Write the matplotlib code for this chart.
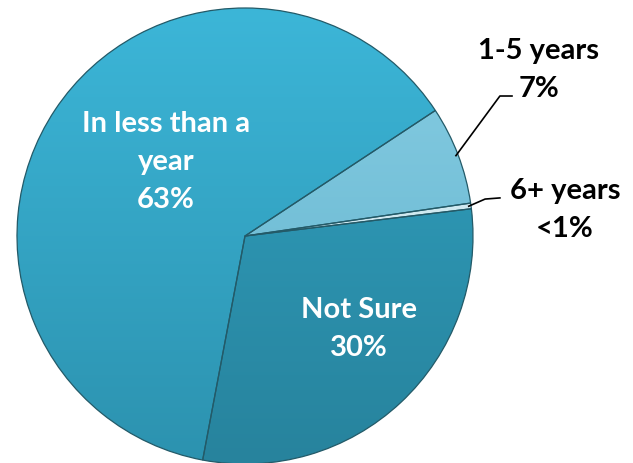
import numpy as np
import matplotlib.pyplot as plt
from matplotlib.colors import LinearSegmentedColormap

# slice data, clockwise from the lower-left boundary
labels = ["In less than a\nyear", "1-5 years", "6+ years", "Not Sure"]
values = [63, 7, 0.4, 30]
pct_labels = ["63%", "7%", "<1%", "30%"]

top_colors = ["#3cb6d8", "#88cee4", "#e2f3f8", "#31a2c1"]
bottom_colors = ["#2c92af", "#5fb1cb", "#b9dde8", "#27839d"]

plt.rcParams['font.family'] = ['Lato', 'DejaVu Sans']

fig = plt.figure(figsize=(6.33, 4.64), dpi=100)
# pie centre at (245, 237) px, radius 228 px
ax = fig.add_axes([17 / 633, (464 - 465) / 464, 456 / 633, 456 / 464])
ax.set_xlim(-1, 1)
ax.set_ylim(-1, 1)
ax.set_aspect('equal')
ax.axis('off')

wedges, _ = ax.pie(values, startangle=259.3, counterclock=False, radius=1,
                   colors=top_colors,
                   wedgeprops=dict(edgecolor="#235a68", linewidth=0.9))

# vertical shading inside each wedge
grad = np.linspace(1, 0, 256).reshape(-1, 1)
for w, c_top, c_bot in zip(wedges, top_colors, bottom_colors):
    cmap = LinearSegmentedColormap.from_list("g", [c_bot, c_top])
    im = ax.imshow(grad, cmap=cmap, extent=(-1, 1, -1, 1), aspect='auto',
                   origin='upper', zorder=w.get_zorder() + 0.1, vmin=0, vmax=1)
    im.set_clip_path(w)
    w.set_zorder(w.get_zorder() + 0.2)
    w.set_facecolor("none")

ax.set_xlim(-1, 1)
ax.set_ylim(-1, 1)

txt = dict(ha="center", va="center", fontsize=21, fontweight="bold",
           linespacing=1.55)

# labels inside the pie
ax.text(-0.347, 0.329, labels[0] + "\n" + pct_labels[0], color="white", zorder=10, **txt)
ax.text(0.50, -0.404, labels[3] + "\n" + pct_labels[3], color="white", zorder=10, **txt)

# labels outside with leader lines
outside = [(1, (1.118, 0.614), (1.171, 0.614), (1.289, 0.732)),
           (2, (1.053, 0.162), (1.118, 0.167), (1.404, 0.118))]
for i, elbow, end, tpos in outside:
    w = wedges[i]
    mid = np.deg2rad((w.theta1 + w.theta2) / 2)
    sx, sy = np.cos(mid) * 0.99, np.sin(mid) * 0.99
    ax.plot([sx, elbow[0], end[0]], [sy, elbow[1], end[1]], color="black",
            linewidth=1.2, clip_on=False, zorder=11)
    ax.text(tpos[0], tpos[1], labels[i] + "\n" + pct_labels[i], color="black",
            zorder=10, **txt)

fig.savefig("out.png", dpi=100)
